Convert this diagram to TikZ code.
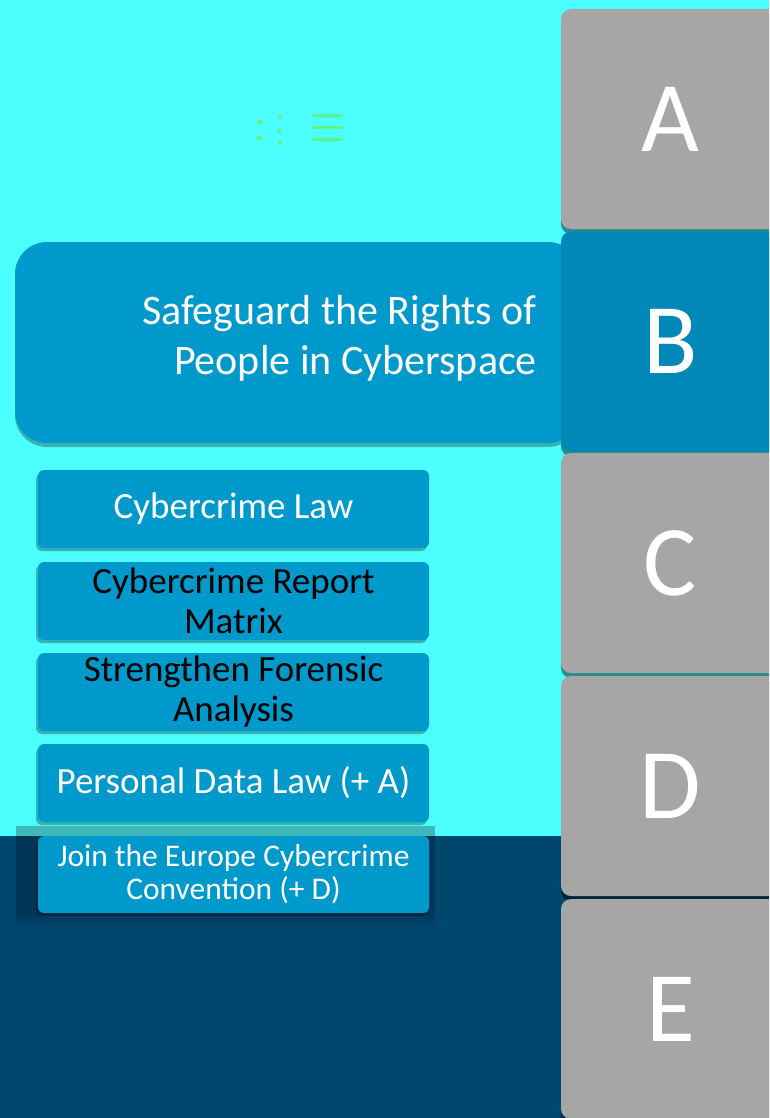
\documentclass[tikz,border=0pt]{standalone}
\usepackage{fontspec}
\setmainfont{Carlito}
\usetikzlibrary{shadows}
\definecolor{bgcyan}{HTML}{4CFFFF}
\definecolor{boxblue}{HTML}{0099CC}
\definecolor{tabblue}{HTML}{0088B8}
\definecolor{tabgray}{HTML}{A6A6A6}
\definecolor{navy}{HTML}{00476E}
\definecolor{navydark}{HTML}{003556}
\definecolor{bandteal}{HTML}{3FB8B8}
\definecolor{icongreen}{HTML}{66F066}
\tikzset{
  tabbox/.style={rectangle, rounded corners=10pt, minimum width=219pt, minimum height=220pt, inner sep=0pt,
    text=white, font=\fontsize{100}{100}\selectfont,
    drop shadow={shadow xshift=0pt, shadow yshift=-5pt, fill=black, opacity=0.45}},
  itembox/.style={rectangle, rounded corners=6pt, fill=boxblue, minimum width=391pt, minimum height=78pt,
    inner sep=0pt, align=center,
    drop shadow={shadow xshift=-2pt, shadow yshift=-3pt, fill=black, opacity=0.3}},
  itemfont/.style={font=\fontsize{37}{40}\selectfont},
  iconline/.style={icongreen, line width=3pt, line cap=round, opacity=0.8},
}
\begin{document}
\begin{tikzpicture}[x=1pt,y=-1pt]
\useasboundingbox (0,0) rectangle (769,1118);
\clip (0,0) rectangle (769,1118);
% backgrounds
\fill[bgcyan] (0,0) rectangle (769,1118);
\fill[navy] (0,836) rectangle (769,1118);
\fill[bandteal] (16,826) rectangle (435,836);
\fill[navydark] (16,836) rectangle (435,912);
\shade[top color=navydark, bottom color=navy] (16,912) rectangle (435,928);
% icon marks
\draw[iconline] (313,116) -- (342,116);
\draw[iconline] (313,128) -- (342,128);
\draw[iconline] (313,140) -- (342,140);
\fill[icongreen, opacity=0.7] (260,122) circle (3) (259,138) circle (3) (280,117) circle (2.5) (279,131) circle (2.5) (280,143) circle (2.5);
% header box
\node[rectangle, rounded corners=32pt, fill=boxblue, minimum width=565pt, minimum height=201pt, inner sep=0pt,
  drop shadow={shadow xshift=0pt, shadow yshift=-4pt, fill=black, opacity=0.3}] (header) at (297.5,342.5) {};
\node[anchor=east, align=right, text=white, font=\fontsize{42}{50}\selectfont, inner sep=0pt] (title) at (537,338)
  {Safeguard the Rights of\\People in Cyberspace};
% tabs
\node[tabbox, fill=tabgray] (A) at (670.5,119) {A};
\node[tabbox, fill=tabblue] (B) at (670.5,341.5) {B};
\node[tabbox, fill=tabgray] (C) at (670.5,563) {C};
\node[tabbox, fill=tabgray] (D) at (670.5,786) {D};
\node[tabbox, fill=tabgray] (E) at (670.5,1009) {E};
% items
\node[itembox, itemfont, text=white] (i1) at (233.5,509) {Cybercrime Law};
\node[itembox, itemfont, text=black] (i2) at (233.5,601) {Cybercrime Report\\Matrix};
\node[itembox, itemfont, text=black] (i3) at (233.5,692) {Strengthen Forensic\\Analysis};
\node[itembox, itemfont, text=white] (i4) at (233.5,783) {Personal Data Law (+ A)};
\node[itembox, text=white, minimum height=77pt, font=\fontsize{31.5}{33}\selectfont] (i5) at (233.5,874.5) {Join the Europe Cybercrime\\Convention (+ D)};
\end{tikzpicture}
\end{document}
